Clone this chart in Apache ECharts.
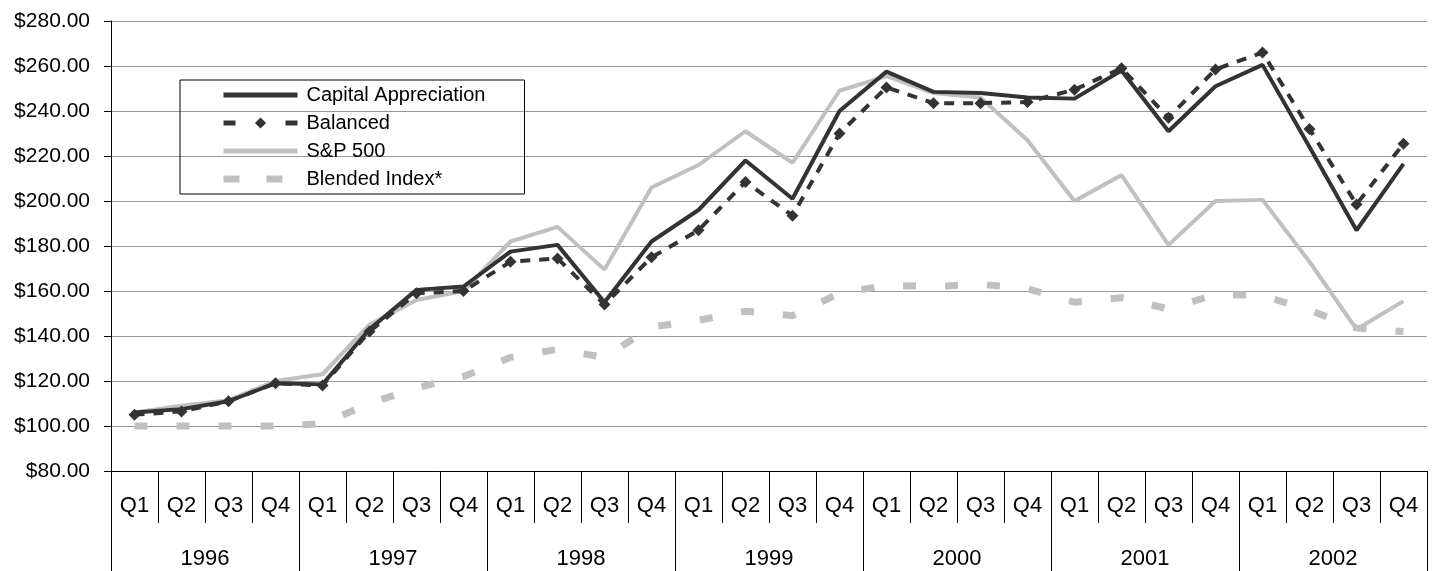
<!DOCTYPE html>
<html lang="en">
<head>
<meta charset="UTF-8">
<title>Growth of investment</title>
<script src="https://cdn.jsdelivr.net/npm/echarts/dist/echarts.min.js"></script>
<style>
  html, body { margin: 0; padding: 0; background: #fff; }
</style>
</head>
<body>
<div id="main" style="width: 1433px; height: 571px;"></div>
<script type="text/javascript">
// data
var years = ['1996', '1997', '1998', '1999', '2000', '2001', '2002'];
var quarters = ['Q1', 'Q2', 'Q3', 'Q4'];
var yTicks = [80, 280, 20]; // min, max, step

var capitalAppreciation = [106, 107.5, 111, 119, 118.5, 143, 160.5, 162, 177.5, 180.5, 155, 182,
    196, 218, 201, 240, 257.5, 248.5, 248, 246, 245.5, 258, 231, 251, 260.5, 224, 187, 216.5];
var balanced = [105, 106.5, 111, 119, 118, 142, 159, 160, 173, 174.5, 154, 175,
    187, 208.5, 193.5, 230, 250.5, 243.5, 243.5, 244, 249.5, 259, 237, 258.5, 266, 232, 198.5, 225.5];
var sp500 = [106, 109, 111.5, 120, 123, 145, 156, 160, 182, 188.5, 169.5, 206,
    216, 231, 217, 249, 255.5, 248, 246, 227, 200, 211.5, 180.5, 200, 200.5, 173, 143, 155.5];
var blended = [100, 100, 100, 100, 101, 110, 117, 122, 130.5, 134, 130.5, 144,
    147, 151, 149, 159, 162.5, 162, 163, 161, 155, 157, 152, 158.5, 158, 151.5, 143.5, 142];

var qLabels = [];
years.forEach(function () { quarters.forEach(function (q) { qLabels.push(q); }); });

var font = 'Liberation Sans, Arial, sans-serif';
var myChart = echarts.init(document.getElementById('main'));
var noMark = { opacity: 0 }; // hide the legend's default circle for plain lines
var option = {
    animation: false,
    textStyle: { fontFamily: font, color: '#000' },
    grid: { left: 111, right: 6, top: 21, bottom: 100 },
    legend: {
        orient: 'vertical',
        left: 180,
        top: 80,
        padding: [5, 39, 5, 40],
        itemGap: 8,
        itemWidth: 74,
        itemHeight: 14,
        borderColor: '#000',
        borderWidth: 1,
        textStyle: { fontFamily: font, fontSize: 20, lineHeight: 20, color: '#000', padding: [0, 0, 0, 4] },
        data: [
            { name: 'Capital Appreciation', itemStyle: noMark, lineStyle: { width: 5 } },
            { name: 'Balanced', lineStyle: { type: [12, 50], width: 5 } },
            { name: 'S&P 500', itemStyle: noMark, lineStyle: { width: 5 } },
            { name: 'Blended Index*', itemStyle: noMark, lineStyle: { type: [16, 27], width: 7 } }
        ]
    },
    xAxis: [
        {
            type: 'category',
            data: qLabels,
            position: 'bottom',
            axisLine: { lineStyle: { color: '#000', width: 1 } },
            axisTick: { show: true, interval: 0, length: 52, lineStyle: { color: '#000' } },
            axisLabel: { interval: 0, margin: 24, fontSize: 22, color: '#000', fontFamily: font }
        },
        {
            type: 'category',
            data: years,
            position: 'bottom',
            axisLine: { show: false },
            axisTick: { show: true, interval: 0, length: 100, lineStyle: { color: '#000' } },
            axisLabel: { interval: 0, margin: 77, fontSize: 22, color: '#000', fontFamily: font }
        }
    ],
    yAxis: {
        type: 'value',
        min: yTicks[0],
        max: yTicks[1],
        interval: yTicks[2],
        axisLine: { show: true, lineStyle: { color: '#000' } },
        axisTick: { show: true, length: 7, lineStyle: { color: '#000' } },
        axisLabel: {
            fontSize: 21, color: '#000', fontFamily: font, margin: 21,
            formatter: function (v) { return '$' + v.toFixed(2); }
        },
        splitLine: { lineStyle: { color: '#999', width: 1 } }
    },
    series: [
        {
            name: 'Capital Appreciation',
            type: 'line',
            data: capitalAppreciation,
            symbol: 'none',
            z: 4,
            lineStyle: { color: '#333', width: 4 },
            itemStyle: { color: '#333' }
        },
        {
            name: 'Balanced',
            type: 'line',
            data: balanced,
            symbol: 'diamond',
            symbolSize: 12,
            z: 5,
            lineStyle: { color: '#333', width: 4, type: [10, 9] },
            itemStyle: { color: '#333' }
        },
        {
            name: 'S&P 500',
            type: 'line',
            data: sp500,
            symbol: 'none',
            z: 3,
            lineStyle: { color: '#c0c0c0', width: 4 },
            itemStyle: { color: '#c0c0c0' }
        },
        {
            name: 'Blended Index*',
            type: 'line',
            data: blended,
            symbol: 'none',
            z: 2,
            lineStyle: { color: '#c0c0c0', width: 7, type: [13, 29] },
            itemStyle: { color: '#c0c0c0' }
        }
    ]
};
myChart.setOption(option);
</script>
</body>
</html>
